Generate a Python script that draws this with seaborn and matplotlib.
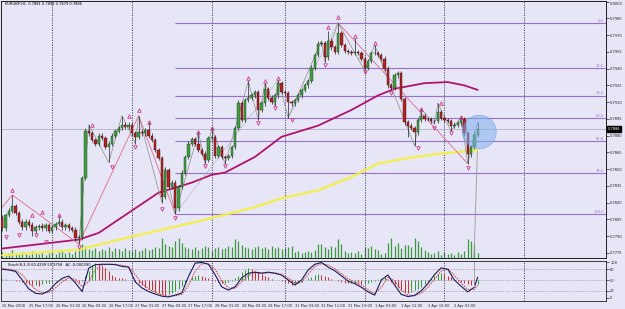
import numpy as np
import matplotlib
matplotlib.use("Agg")
import matplotlib.pyplot as plt
import seaborn as sns
from matplotlib.patches import Ellipse

# EURGBP H1, 25 Mar 2008 09:00 .. 2 Apr 11:00, prices in pips (1e-4)
first_open = 7806
close_pips = [7797, 7809, 7813, 7817, 7811, 7803, 7798, 7803, 7800, 7795, 7798, 7799, 7797, 7800, 7795, 7798, 7801, 7803, 7798, 7800, 7797, 7796, 7788, 7789,
              7842, 7884, 7882, 7876, 7873, 7880, 7878, 7870, 7873, 7880, 7884, 7887, 7890, 7888, 7890, 7882, 7879, 7883, 7882, 7885, 7880, 7876, 7867, 7860,
              7825, 7849, 7834, 7838, 7815, 7834, 7847, 7861, 7873, 7877, 7873, 7867, 7864, 7858, 7878, 7879, 7862, 7870, 7861, 7860, 7862, 7870, 7887, 7909,
              7894, 7912, 7914, 7916, 7919, 7903, 7909, 7922, 7914, 7910, 7916, 7927, 7919, 7918, 7910, 7909, 7912, 7916, 7921, 7925, 7929, 7941, 7952, 7962,
              7963, 7950, 7965, 7959, 7955, 7972, 7961, 7956, 7955, 7954, 7955, 7954, 7949, 7941, 7947, 7954, 7954, 7952, 7949, 7940, 7925, 7923, 7934, 7936,
              7913, 7892, 7889, 7887, 7883, 7894, 7898, 7895, 7895, 7893, 7893, 7901, 7896, 7894, 7893, 7889, 7890, 7891, 7895, 7882, 7864, 7870, 7881, 7886]
upper_wick = [3, 2, 2, 10, 2, 2, 2, 2, 2, 3, 2, 2, 3, 2, 2, 2, 2, 6, 2, 2, 2, 2, 2, 2,
              2, 3, 6, 2, 2, 2, 2, 2, 2, 2, 2, 2, 8, 2, 2, 2, 2, 15, 2, 2, 7, 2, 2, 2,
              2, 3, 2, 2, 2, 2, 2, 2, 2, 2, 2, 10, 2, 2, 2, 8, 2, 2, 2, 2, 2, 2, 2, 3,
              2, 2, 15, 2, 2, 2, 2, 5, 2, 2, 2, 3, 2, 2, 2, 2, 2, 2, 2, 2, 2, 2, 2, 3,
              2, 2, 9, 2, 2, 9, 2, 2, 2, 2, 12, 2, 2, 2, 2, 2, 7, 2, 2, 2, 2, 2, 2, 2,
              2, 2, 2, 2, 2, 2, 6, 2, 2, 2, 2, 8, 2, 2, 2, 2, 2, 2, 2, 2, 2, 2, 3, 6]
lower_wick = [2, 2, 2, 2, 2, 2, 2, 2, 2, 5, 2, 2, 2, 2, 2, 2, 2, 2, 2, 2, 2, 2, 2, 5,
              2, 2, 2, 2, 2, 2, 2, 2, 14, 2, 2, 2, 2, 2, 2, 2, 6, 2, 2, 2, 2, 2, 2, 2,
              5, 2, 2, 2, 5, 2, 2, 2, 2, 2, 2, 2, 2, 3, 2, 2, 2, 2, 2, 5, 2, 2, 2, 2,
              2, 2, 2, 2, 2, 9, 2, 2, 2, 2, 3, 2, 2, 2, 14, 2, 2, 2, 2, 2, 2, 2, 2, 2,
              2, 4, 2, 2, 2, 2, 2, 2, 2, 2, 2, 2, 2, 3, 2, 2, 2, 2, 2, 2, 2, 2, 2, 2,
              2, 2, 10, 2, 12, 2, 2, 2, 2, 2, 2, 2, 2, 2, 2, 5, 2, 2, 2, 2, 9, 3, 2, 2]
volume = [60, 40, 50, 80, 50, 40, 60, 50, 30, 70, 50, 40, 60, 30, 50, 70, 40, 60, 80, 50, 60, 40, 70, 90,
          140, 120, 90, 80, 100, 70, 90, 80, 110, 70, 100, 90, 70, 100, 80, 70, 90, 70, 80, 100, 80, 90, 110, 100,
          200, 140, 120, 110, 170, 200, 150, 110, 100, 90, 110, 80, 100, 120, 110, 70, 100, 110, 90, 100, 120, 110, 190, 170,
          130, 110, 100, 90, 110, 120, 100, 110, 90, 120, 100, 110, 90, 100, 110, 120, 60, 70, 50, 60, 70, 60, 80, 140,
          140, 110, 90, 120, 110, 190, 140, 70, 50, 60, 50, 70, 40, 110, 100, 120, 90, 80, 40, 50, 150, 200, 120, 150,
          100, 130, 130, 110, 200, 170, 110, 80, 60, 40, 50, 70, 30, 60, 40, 50, 30, 60, 40, 70, 190, 170, 140, 50]

# moving averages (read at a few bars)
ma_slow_bars = [0, 23, 29, 38, 47, 57, 63, 67, 76, 84, 95, 105, 113, 118, 127, 134, 139, 143]
ma_slow_pips = [7779, 7787, 7793, 7811, 7829, 7838, 7845, 7847, 7861, 7879, 7889, 7903, 7916, 7922, 7927, 7928, 7925, 7921]
ma_long_bars = [0, 23, 38, 57, 76, 84, 95, 105, 113, 122, 132, 143]
ma_long_pips = [7773, 7778, 7789, 7802, 7816, 7824, 7831, 7843, 7855, 7860, 7864, 7867]

fib_levels = [0.7981, 0.79406, 0.79157, 0.78955, 0.78753, 0.78465, 0.7810]
fib_labels = ['0.0', '23.6', '38.2', '50.0', '61.8', '78.6', '100.0']

frac_up_bars = [3, 9, 12, 17, 27, 38, 41, 44, 59, 63, 74, 79, 83, 98, 101, 106, 112, 126, 132, 138]
frac_up_pips = [7831, 7809, 7812, 7809, 7890, 7898, 7903, 7892, 7883, 7887, 7932, 7929, 7932, 7977, 7986, 7969, 7963, 7904, 7909, 7897]
frac_dn_bars = [1, 5, 10, 13, 23, 33, 40, 48, 52, 61, 67, 77, 82, 87, 97, 109, 117, 125, 130, 135, 140]
frac_dn_pips = [7789, 7791, 7791, 7785, 7780, 7852, 7870, 7814, 7806, 7853, 7853, 7891, 7905, 7894, 7943, 7937, 7918, 7869, 7887, 7882, 7851]

zz_pink = [([0, 3, 23, 41, 52], [7816, 7827, 7783, 7898, 7810]), ([101, 140], [7981, 7855])]
zz_gray_bars = [23, 26, 32, 36, 40, 41, 48, 49, 52, 59, 61, 63, 67, 74, 77, 79, 82, 83, 86, 96, 97, 101,
                109, 112, 124, 126, 130, 131, 135, 138, 140, 143]
zz_gray_pips = [7783, 7890, 7856, 7898, 7873, 7898, 7820, 7851, 7810, 7883, 7855, 7887, 7855, 7929, 7894, 7927, 7907, 7930, 7896, 7965, 7946, 7981,
                7938, 7961, 7871, 7904, 7890, 7909, 7884, 7897, 7855, 7892]
zz_dotted = [([52, 83], [7810, 7930]), ([86, 101], [7896, 7981])]

# stochastic (8,3,3) and accelerator
stoch_bars = list(range(0, 143, 2)) + [143]
stoch_k = [80, 78, 74, 50, 25, 13, 11, 20, 40, 55, 61, 42, 18, 83, 93, 94, 94, 93, 88, 86, 45, 28, 18, 11, 5, 3, 8, 14, 60, 97, 99, 94, 65, 31, 22, 31,
           56, 69, 72, 69, 72, 69, 64, 50, 36, 50, 78, 94, 99, 86, 76, 62, 47, 40, 30, 17, 8, 50, 64, 36, 10, 4, 7, 20, 40, 65, 84, 80, 50, 33, 17, 30, 58]
stoch_d = [82, 80, 77, 65, 42, 24, 15, 15, 28, 45, 56, 52, 32, 45, 80, 92, 94, 94, 91, 88, 65, 40, 25, 15, 9, 5, 6, 10, 35, 75, 95, 96, 80, 48, 28, 27,
           45, 62, 70, 70, 70, 70, 66, 56, 42, 44, 66, 88, 96, 92, 82, 68, 54, 44, 36, 23, 12, 30, 57, 48, 22, 8, 6, 13, 30, 52, 75, 82, 63, 42, 24, 24, 35]
ac = [2, 3, 1, -1, -2, -3, -5, -8, -10, -12, -11, -13, -10, -8, -6, -4, -2, 0, 3, 2, 1, -1, -3, -4, -2,
      10, 22, 34, 40, 38, 33, 28, 20, 12, 8, 5, 4, 2, 1, -1,
      -4, -8, -12, -16, -20, -24, -27, -30, -33, -35, -32, -30, -26, -20, -14,
      -8, 0, 6, 10, 12, 10, 8, 5, 2, -2, -5, -8, -6, -4, -2,
      4, 10, 18, 24, 28, 26, 22, 18, 14, 10, 6, 3, 1, -1, -3, -5, -8, -12, -10, -7, -4, -1,
      4, 8, 12, 14, 12, 9, 6, 3, 1, -2, -4, -6, -8, -7, -6, -8, -10, -9, -7, -5, -2, 2, 5, 6, 3,
      -4, -10, -16, -22, -28, -30, -28, -24, -20, -15, -10, -4, 4, 10, 15, 16, 13, 10, 6,
      2, -2, -5, -8, -10, -12, -11, -9]

time_label_bars = [0, 8, 16, 24, 32, 40, 48, 56, 64, 72, 80, 88, 96, 104, 112, 120, 128, 136]
time_labels = ['25 Mar 2008', '25 Mar 17:00', '26 Mar 01:00', '26 Mar 09:00', '26 Mar 17:00', '27 Mar 01:00',
               '27 Mar 09:00', '27 Mar 17:00', '28 Mar 01:00', '28 Mar 09:00', '28 Mar 17:00', '31 Mar 03:00',
               '31 Mar 11:00', '31 Mar 19:00', '1 Apr 03:00', '1 Apr 11:00', '1 Apr 19:00', '2 Apr 03:00']
day_starts = [15, 39, 63, 85, 109, 133, 157]
price_ticks = [0.8000, 0.7985, 0.7970, 0.7955, 0.7940, 0.7925, 0.7910, 0.7895, 0.7880,
               0.7865, 0.7850, 0.7835, 0.7820, 0.7805, 0.7790, 0.7775]
last_price = 0.7886

sns.set_style("white")
plt.rcParams['font.family'] = ['DejaVu Sans']
plt.rcParams['font.stretch'] = 'condensed'
bg = '#e6e6f6'
small = 2.9

close = np.array(close_pips) / 1e4
opn = np.array([first_open] + close_pips[:-1]) / 1e4
high = np.maximum(opn, close) + np.array(upper_wick) / 1e4
low = np.minimum(opn, close) - np.array(lower_wick) / 1e4
x = np.arange(len(close))
up = close >= opn

fig = plt.figure(figsize=(6.25, 3.09), dpi=100, facecolor=bg)
axv = fig.add_axes([0.0016, 0.165, 0.968, 0.833])
ax = fig.add_axes([0.0016, 0.165, 0.968, 0.833], sharex=axv)
axs = fig.add_axes([0.0016, 0.026, 0.968, 0.129])
axv.set_facecolor(bg)
ax.patch.set_visible(False)
axs.set_facecolor(bg)
xlim = (-0.4, 181.6)

# volume in the bottom of the price panel
axv.vlines(x, 0, volume, color='#3f9a3f', lw=0.9)
axv.set_ylim(0, 2580)
axv.set_yticks([])
axv.set_xlim(*xlim)
axv.tick_params(axis='x', bottom=False, labelbottom=False)

# day separators
for a in (ax, axs):
    for d in day_starts:
        a.axvline(d, color='#3a3a5a', ls=(0, (1.5, 1.5)), lw=0.6, zorder=1)

# fibo levels
ax.hlines(fib_levels, 52, xlim[1], color='#9c70c8', lw=0.8, zorder=2)
for lv, lb in zip(fib_levels, fib_labels):
    ax.text(xlim[1] - 0.6, lv + 0.00003, lb, ha='right', va='bottom', fontsize=small, color='#9c70c8')
ax.axhline(last_price, color='#a8a8b8', lw=0.5, zorder=2)

# moving averages
sns.lineplot(x=ma_long_bars, y=np.array(ma_long_pips) / 1e4, ax=ax, color='#f4f04a', linewidth=1.8, alpha=0.9, zorder=3)
sns.lineplot(x=ma_slow_bars, y=np.array(ma_slow_pips) / 1e4, ax=ax, color='#b0146e', linewidth=1.3, zorder=3)

# zigzag lines
for bx, py in zz_pink:
    ax.plot(bx, np.array(py) / 1e4, color='#e06a8c', lw=0.6, zorder=3)
ax.plot(zz_gray_bars, np.array(zz_gray_pips) / 1e4, color='#8c8c8c', lw=0.5, zorder=3)
for bx, py in zz_dotted:
    ax.plot(bx, np.array(py) / 1e4, color='#8c8c8c', lw=0.6, ls=(0, (1, 1.5)), zorder=3)

# candles
ax.vlines(x, low, high, color='#222222', lw=0.5, zorder=4)
ax.bar(x[up], np.maximum((close - opn)[up], 0.00001), bottom=opn[up], width=0.7,
       color='#3f9f3f', edgecolor='#1d3d1d', linewidth=0.3, zorder=5)
ax.bar(x[~up], (opn - close)[~up], bottom=close[~up], width=0.7,
       color='#b52222', edgecolor='#3d1010', linewidth=0.3, zorder=5)

# fractals
ax.plot(frac_up_bars, np.array(frac_up_pips) / 1e4, ls='none', marker='^', ms=2.6,
        mfc='none', mec='#cc3a8a', mew=0.6, zorder=6)
ax.plot(frac_dn_bars, np.array(frac_dn_pips) / 1e4, ls='none', marker='v', ms=2.6,
        mfc='none', mec='#cc3a8a', mew=0.6, zorder=6)

# highlight and cursor line
ax.add_patch(Ellipse((143.5, 0.78833), width=10.2, height=0.00300, facecolor='#7fb0ee',
                     edgecolor='#5a8cd6', lw=0.5, alpha=0.55, zorder=7))
ax.plot([142.9, 141.9], [0.7866, 0.77705], color='#9a9a9a', lw=0.6, zorder=6)

ax.set_xlim(*xlim)
ax.set_ylim(0.77705, 0.80009)
ax.yaxis.tick_right()
ax.set_yticks(price_ticks)
ax.set_yticklabels(['%.4f' % t for t in price_ticks])
ax.tick_params(axis='y', labelsize=small, length=2, width=0.5, pad=1, colors='#202020')
for lbl in ax.get_yticklabels()[:1]:
    lbl.set_va('top')
ax.tick_params(axis='x', bottom=False, labelbottom=False)
ax.text(1.003, last_price, '%.4f' % last_price, transform=ax.get_yaxis_transform(), fontsize=small,
        color='white', va='center', ha='left',
        bbox=dict(boxstyle='square,pad=0.15', fc='black', ec='black'))
ax.text(0.006, 0.993, 'EURGBP,H1  0.7881 0.7892 0.7879 0.7886', transform=ax.transAxes,
        fontsize=small, va='top', ha='left', color='black')

# stochastic panel
axs.axhline(80, color='#808090', lw=0.5, ls=(0, (1, 1.5)))
axs.axhline(50, color='#808090', lw=0.5, ls=(0, (1, 1.5)))
axs.axhline(20, color='#808090', lw=0.5, ls=(0, (1, 1.5)))
ac_arr = np.array(ac)
ac_col = ['#2f9a2f' if i == 0 or ac_arr[i] >= ac_arr[i - 1] else '#d02a2a' for i in range(len(ac_arr))]
axs.vlines(np.arange(len(ac_arr)), 50, 50 + ac_arr * 1.2, colors=ac_col, lw=0.7)
sns.lineplot(x=stoch_bars, y=stoch_d, ax=axs, color='#d03030', linewidth=0.7, linestyle=(0, (1.5, 1.2)))
sns.lineplot(x=stoch_bars, y=stoch_k, ax=axs, color='#1c1c5c', linewidth=0.8)
axs.plot([142, 142], [103, 30], color='#9a9a9a', lw=0.6)
axs.set_xlim(*xlim)
axs.set_ylim(-8.3, 102.8)
axs.yaxis.tick_right()
axs.set_yticks([0, 20, 50, 80, 100])
axs.set_yticklabels(['0', '20', '50', '80', '100'])
axs.tick_params(axis='y', labelsize=small, length=2, width=0.5, pad=1)
axs.set_xticks(time_label_bars)
axs.set_xticklabels(time_labels, ha='left')
axs.tick_params(axis='x', labelsize=small, length=2, width=0.5, pad=0.5)
axs.set_xlabel('')
axs.set_ylabel('')
ax.set_xlabel('')
ax.set_ylabel('')
axs.text(0.012, 0.95, 'Stoch(8,3,3) 60.4299 59.9758   AC -0.000090', transform=axs.transAxes,
         fontsize=small, va='top', ha='left', color='black')

for a in (ax, axv, axs):
    for s in a.spines.values():
        s.set_color('#202020')
        s.set_linewidth(0.6)

fig.savefig('out.png', dpi=100, facecolor=bg)
